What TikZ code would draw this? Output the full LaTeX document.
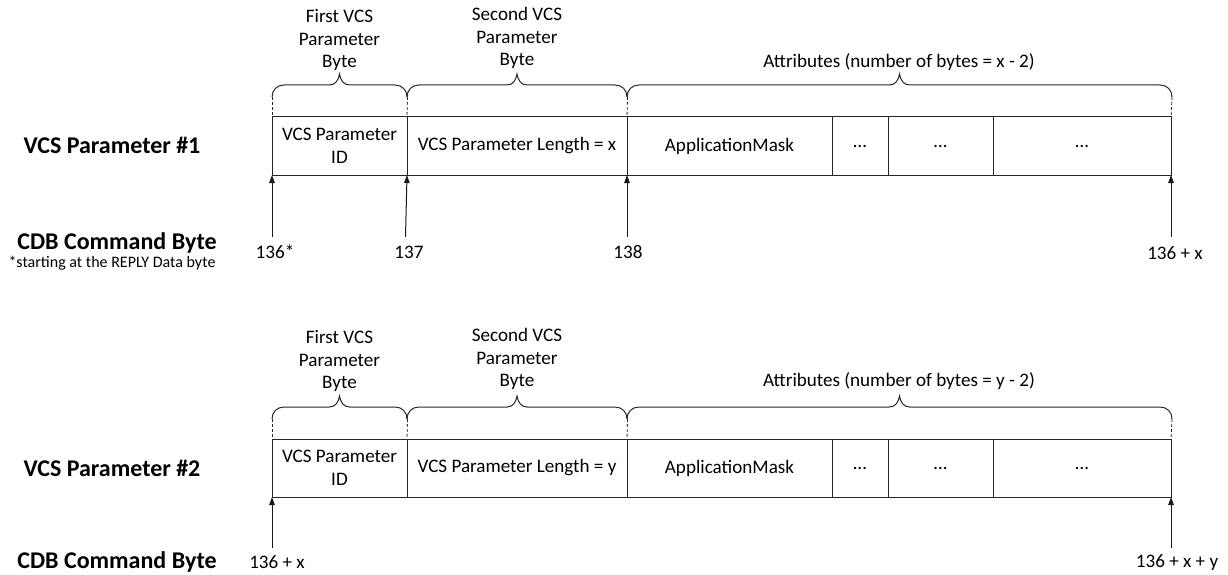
\documentclass[tikz,border=0pt]{standalone}
\usepackage{fontspec}
\setmainfont{Carlito}
\usetikzlibrary{arrows.meta}
\newcommand\cellfont{\fontsize{19.1}{22.5}\selectfont}
\newcommand\bigfont{\fontsize{24}{28}\selectfont\bfseries}
\newcommand\smallfont{\fontsize{16}{19}\selectfont}
\newcommand\bytebrace[3]{%
  \pgfmathsetmacro\xm{(#1+#2)/2}%
  \draw[brc] (#1,#3) .. controls (#1,#3-7) and (#1+5,#3-12) .. (#1+12,#3-12)
    -- (\xm-10,#3-12) .. controls (\xm-4,#3-12) and (\xm-1,#3-17) .. (\xm,#3-23)
    .. controls (\xm+1,#3-17) and (\xm+4,#3-12) .. (\xm+10,#3-12)
    -- (#2-12,#3-12) .. controls (#2-5,#3-12) and (#2,#3-7) .. (#2,#3);
}
\tikzset{
  cell/.style={draw=black!85, line width=1pt, minimum height=58pt, inner sep=0pt,
    outer sep=0pt, align=center, font=\cellfont, anchor=west},
  txt/.style={inner sep=0pt, align=center, font=\cellfont},
  big/.style={inner sep=0pt, align=center, font=\bigfont},
  brc/.style={draw=black!85, line width=1pt},
  dsh/.style={draw=black!85, line width=0.8pt, dash pattern=on 3pt off 2pt},
  arr/.style={draw=black!90, line width=1pt, -{Triangle[length=8pt,width=5.5pt]}}
}
\begin{document}
\begin{tikzpicture}[x=1pt,y=-1pt]
\useasboundingbox (0,0) rectangle (1228,575);

% ---------------- Row 1 ----------------
\node[big] (vp1) at (112,145) {VCS Parameter \#1};
\node[big] (cdb1) at (117,243) {CDB Command Byte};
\node[inner sep=0pt, font=\smallfont] (note) at (112,263) {*starting at the REPLY Data byte};

\node[cell, minimum width=135pt] (a1) at (272,146) {VCS Parameter\\ID};
\node[cell, minimum width=220pt] (a2) at (a1.east) {VCS Parameter Length = x};
\node[cell, minimum width=205pt] (a3) at (a2.east) {ApplicationMask};
\node[cell, minimum width=56pt]  (a4) at (a3.east) {…};
\node[cell, minimum width=105pt] (a5) at (a4.east) {…};
\node[cell, minimum width=178pt] (a6) at (a5.east) {…};

\bytebrace{272}{407}{97}
\bytebrace{407}{627}{97}
\bytebrace{627}{1172}{97}
\draw[dsh] (272,97) -- (a1.north west);
\draw[dsh] (407.5,97) -- (a2.north west);
\draw[dsh] (627.5,97) -- (a3.north west);
\draw[dsh] (1172,97) -- (a6.north east);

\node[txt] (f1) at (339.5,40) {First VCS\\Parameter\\Byte};
\node[txt] (s1) at (517,38) {Second VCS\\Parameter\\Byte};
\node[txt] (at1) at (899,62) {Attributes (number of bytes = x - 2)};

\node[txt] (l1) at (275,252) {136*};
\node[txt] (l2) at (409,252) {137};
\node[txt] (l3) at (628,252) {138};
\node[txt] (l4) at (1175,253) {136 + x};
\coordinate (p1) at (272,237);
\coordinate (p2) at (405.5,237);
\coordinate (p3) at (627,237);
\coordinate (p4) at (1171,237);
\draw[arr] (p1) -- (a1.south west);
\draw[arr] (p2) -- (a2.south west);
\draw[arr] (p3) -- (a3.south west);
\draw[arr] (p4) -- (a6.south east);

% ---------------- Row 2 ----------------
\node[big] (vp2) at (112,468) {VCS Parameter \#2};
\node[big] (cdb2) at (117,562) {CDB Command Byte};

\node[cell, minimum width=135pt] (b1) at (272,468) {VCS Parameter\\ID};
\node[cell, minimum width=220pt] (b2) at (b1.east) {VCS Parameter Length = y};
\node[cell, minimum width=205pt] (b3) at (b2.east) {ApplicationMask};
\node[cell, minimum width=56pt]  (b4) at (b3.east) {…};
\node[cell, minimum width=105pt] (b5) at (b4.east) {…};
\node[cell, minimum width=178pt] (b6) at (b5.east) {…};

\bytebrace{272}{407}{419}
\bytebrace{407}{627}{419}
\bytebrace{627}{1172}{419}
\draw[dsh] (272,419) -- (b1.north west);
\draw[dsh] (407.5,419) -- (b2.north west);
\draw[dsh] (627.5,419) -- (b3.north west);
\draw[dsh] (1172,419) -- (b6.north east);

\node[txt] (f2) at (339.5,361) {First VCS\\Parameter\\Byte};
\node[txt] (s2) at (517,359) {Second VCS\\Parameter\\Byte};
\node[txt] (at2) at (899,381) {Attributes (number of bytes = y - 2)};

\node[txt] (m1) at (277,562) {136 + x};
\node[txt] (m2) at (1177,563) {136 + x + y};
\coordinate (q1) at (272,548);
\coordinate (q2) at (1171,548);
\draw[arr] (q1) -- (b1.south west);
\draw[arr] (q2) -- (b6.south east);
\end{tikzpicture}
\end{document}
